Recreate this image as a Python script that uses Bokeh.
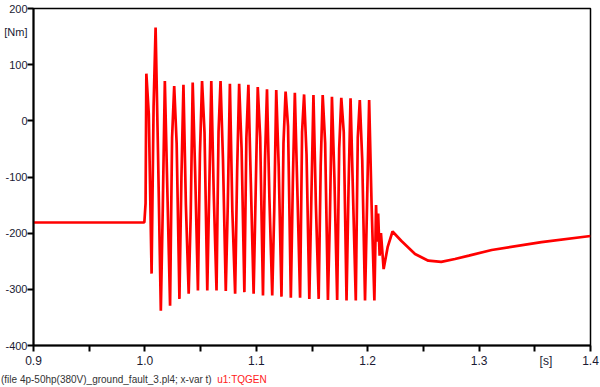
from bokeh.plotting import figure
from bokeh.layouts import column
from bokeh.models import FixedTicker, CustomJSTickFormatter, Div
from bokeh.embed import file_html
from bokeh.resources import INLINE

# ---- data (time in s, torque in Nm) ----
t_pre = [0.900, 0.9995]
tq_pre = [-181, -181]

# fault: per 120 Hz cycle -> peak, falling mid, trough, rising mid
t_fault = [1.0006,
           1.0013, 1.0035, 1.0060, 1.0078,
           1.0096, 1.0118, 1.0143, 1.0161,
           1.0179, 1.0201, 1.0226, 1.0244,
           1.0263, 1.0285, 1.0310, 1.0328,
           1.0346, 1.0368, 1.0393, 1.0411,
           1.0429, 1.0451, 1.0476, 1.0494,
           1.0513, 1.0535, 1.0560, 1.0578,
           1.0596, 1.0618, 1.0643, 1.0661,
           1.0679, 1.0701, 1.0726, 1.0744,
           1.0763, 1.0785, 1.0810, 1.0828,
           1.0846, 1.0868, 1.0893, 1.0911,
           1.0929, 1.0951, 1.0976, 1.0994,
           1.1013, 1.1035, 1.1060, 1.1078,
           1.1096, 1.1118, 1.1143, 1.1161,
           1.1179, 1.1201, 1.1226, 1.1244,
           1.1263, 1.1285, 1.1310, 1.1328,
           1.1346, 1.1368, 1.1393, 1.1411,
           1.1429, 1.1451, 1.1476, 1.1494,
           1.1513, 1.1535, 1.1560, 1.1578,
           1.1596, 1.1618, 1.1643, 1.1661,
           1.1679, 1.1701, 1.1726, 1.1744,
           1.1763, 1.1785, 1.1810, 1.1828,
           1.1846, 1.1868, 1.1893, 1.1911,
           1.1929, 1.1951, 1.1976, 1.1994,
           1.2013, 1.2035, 1.2060]
tq_fault = [-147,
            84, 12, -272, 25,
            166, -60, -338, -150,
            71, -120, -329, -30,
            62, -40, -317, -100,
            64, -150, -308, -170,
            68, -90, -302, -60,
            71, -20, -302, -120,
            71, -130, -302, -20,
            71, -70, -303, -150,
            66, -160, -308, -90,
            66, -50, -305, -30,
            64, -110, -308, -130,
            60, -30, -311, -70,
            56, -140, -311, -160,
            55, -80, -313, -40,
            52, -10, -315, -110,
            50, -120, -315, -20,
            47, -60, -317, -140,
            46, -150, -317, -80,
            46, -40, -319, -170,
            43, -100, -319, -50,
            41, -20, -320, -120,
            40, -130, -320, -30,
            37, -70, -320, -150,
            37, -150, -320]

t_post = [1.2075, 1.2085, 1.2094, 1.2107, 1.2119, 1.2143, 1.2179,
          1.2223, 1.2303, 1.2425, 1.2544, 1.2660, 1.2783, 1.2908, 1.3113,
          1.3560, 1.4000]
tq_post = [-150, -215, -165, -240, -200, -264, -225,
           -197, -214, -237, -249, -251, -246, -240, -230,
           -216, -205]

x_ticks = [0.9, 1.0, 1.1, 1.2, 1.3, 1.4]
x_minor = [0.95, 1.05, 1.15, 1.25, 1.35]
y_ticks = [-400, -300, -200, -100, 0, 100, 200]
x_unit_pos, x_unit = 1.36, "[s]"
y_unit_pos, y_unit = 158, "[Nm]"
caption = "(file 4p-50hp(380V)_ground_fault_3.pl4; x-var t)"
series_name = "u1:TQGEN"

TXT = "#1a1a33"
RED = "#ff0000"

p = figure(width=600, height=371, output_backend="svg", toolbar_location=None,
           x_range=(0.9, 1.4), y_range=(-400, 200),
           min_border_left=33, min_border_right=10, min_border_top=8,
           min_border_bottom=26)
p.background_fill_color = "white"
p.border_fill_color = "white"
p.outline_line_color = "black"
p.outline_line_width = 1.5
p.xgrid.visible = False
p.ygrid.visible = False

t_all = t_pre + t_fault + t_post
tq_all = tq_pre + tq_fault + tq_post
p.line(t_all, tq_all, line_color=RED, line_width=2.7)

xa = p.xaxis[0]
xa.ticker = FixedTicker(ticks=x_ticks + [x_unit_pos], minor_ticks=x_ticks + x_minor)
xa.formatter = CustomJSTickFormatter(
    args=dict(upos=x_unit_pos, utext=x_unit),
    code="return Math.abs(tick - upos) < 1e-9 ? utext : tick.toFixed(1);")
xa.axis_line_width = 2
xa.axis_line_color = "black"
xa.major_tick_in = 0
xa.major_tick_out = 6
xa.major_tick_line_color = None
xa.minor_tick_line_width = 2
xa.minor_tick_line_color = "black"
xa.minor_tick_in = 0
xa.minor_tick_out = 6
xa.major_label_text_font = "Liberation Sans"
xa.major_label_text_font_size = "12px"
xa.major_label_text_color = TXT
xa.major_label_standoff = 2

ya = p.yaxis[0]
ya.ticker = FixedTicker(ticks=y_ticks + [y_unit_pos], minor_ticks=y_ticks)
ya.formatter = CustomJSTickFormatter(
    args=dict(upos=y_unit_pos, utext=y_unit),
    code="return Math.abs(tick - upos) < 1e-9 ? utext : String(Math.round(tick));")
ya.axis_line_width = 2
ya.axis_line_color = "black"
ya.major_tick_in = 0
ya.major_tick_out = 6
ya.major_tick_line_color = None
ya.minor_tick_line_width = 2
ya.minor_tick_line_color = "black"
ya.minor_tick_in = 0
ya.minor_tick_out = 6
ya.major_label_text_font = "Liberation Sans"
ya.major_label_text_font_size = "11px"
ya.major_label_text_color = TXT
ya.major_label_standoff = 0

# caption row under the chart
cap_html = (
    '<div style="font-family:\'Liberation Sans\'; font-size:10px; line-height:12px;'
    ' white-space:nowrap; margin:0; padding:0 0 0 1px;">'
    '<span style="color:#333333;">' + caption + '</span>'
    '&nbsp;&nbsp;<span style="color:#ff2020;">' + series_name + '</span></div>'
)
cap = Div(text=cap_html, width=600, height=16, margin=(0, 0, 0, 0))

layout = column(p, cap, spacing=0)
open("out.html", "w").write(file_html(layout, INLINE))
